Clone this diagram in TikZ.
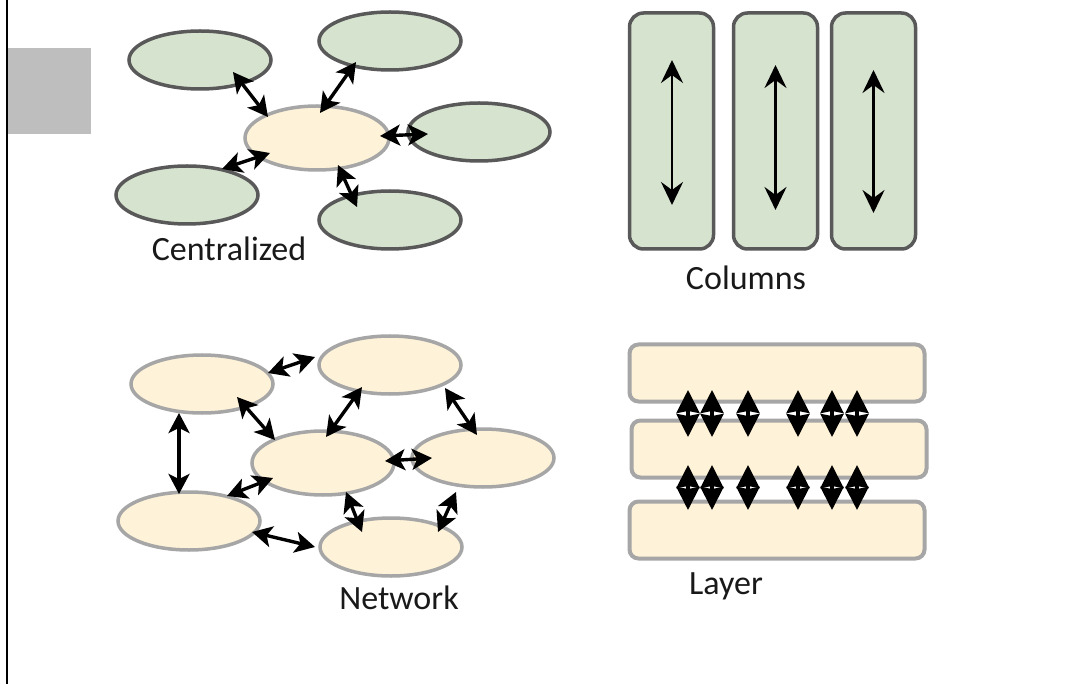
\documentclass[tikz,border=0pt]{standalone}
\usepackage{fontspec}
\setmainfont{Carlito}
\usetikzlibrary{shapes.geometric,arrows.meta}
\definecolor{gfill}{RGB}{214,227,207}
\definecolor{gline}{RGB}{89,89,89}
\definecolor{cfill}{RGB}{254,242,216}
\definecolor{cline}{RGB}{166,166,166}
\definecolor{blockgray}{RGB}{190,190,190}
\tikzset{
  gell/.style={ellipse,draw=gline,fill=gfill,line width=3.5pt,inner sep=0pt,minimum width=142pt,minimum height=58pt},
  cell/.style={ellipse,draw=cline,fill=cfill,line width=3.5pt,inner sep=0pt,minimum width=142pt,minimum height=58pt},
  colbox/.style={rectangle,rounded corners=14pt,draw=gline,fill=gfill,line width=3.5pt,inner sep=0pt,minimum width=84pt,minimum height=236pt},
  laybox/.style={rectangle,rounded corners=9pt,draw=cline,fill=cfill,line width=4pt,inner sep=0pt,minimum width=295pt,minimum height=57pt},
  biarrow/.style={line width=3.4pt,{Stealth[length=20pt,width=21pt,inset=5pt]}-{Stealth[length=20pt,width=21pt,inset=5pt]}},
  colarrow/.style={line width=2.8pt,{Stealth[length=23pt,width=22pt,inset=8pt]}-{Stealth[length=23pt,width=22pt,inset=8pt]}},
  layarrow/.style={line width=3.5pt,{Stealth[length=23pt,width=23pt,inset=2pt]}-{Stealth[length=23pt,width=23pt,inset=2pt]}},
  lbl/.style={font=\fontsize{34}{40}\selectfont,text=black!90,anchor=base,inner sep=0pt}
}
\begin{document}
\begin{tikzpicture}[x=1pt,y=-1pt]
\useasboundingbox (0,0) rectangle (1073,684);
\fill[white] (0,0) rectangle (1073,684);
% left frame line and gray block
\draw[line width=2pt] (7,0) -- (7,684);
\fill[blockgray] (8,48) rectangle (91,134);

% ---------- Centralized ----------
\node[gell] (E1) at (200,60) {};
\node[gell] (E2) at (390,41) {};
\node[gell] (E3) at (479,132) {};
\node[gell] (E4) at (187,195) {};
\node[gell] (E5) at (390,220) {};
\node[cell,minimum height=64pt,minimum width=144pt] (C) at (317,138) {};
\draw[biarrow] ([shift={(33,12)}]E1.center) -- ([shift={(-49,-21)}]C.center);
\draw[biarrow] ([shift={(-34,21)}]E2.center) -- ([shift={(3,-25)}]C.center);
\draw[biarrow] ([shift={(63,-2)}]C.center) -- ([shift={(-51,2)}]E3.center);
\draw[biarrow] ([shift={(35,-26)}]E4.center) -- ([shift={(-47,15)}]C.center);
\draw[biarrow] ([shift={(21,27)}]C.center) -- ([shift={(-33,-13)}]E5.center);
\node[lbl] (tc) at (229,261) {Centralized};

% ---------- Columns ----------
\node[colbox] (C1) at (671.5,131) {};
\node[colbox] (C2) at (775.5,131) {};
\node[colbox] (C3) at (873.5,131) {};
\draw[colarrow] ([shift={(0.5,-71)}]C1.center) -- ([shift={(0.5,74)}]C1.center);
\draw[colarrow] ([shift={(0,-66)}]C2.center) -- ([shift={(0,79)}]C2.center);
\draw[colarrow] ([shift={(0,-61)}]C3.center) -- ([shift={(0,82)}]C3.center);
\node[lbl] (tcol) at (746,290) {Columns};

% ---------- Network ----------
\node[cell] (N1) at (202,384) {};
\node[cell] (N2) at (390,365) {};
\node[cell,minimum height=64pt] (N3) at (323,463) {};
\node[cell] (N4) at (483,458) {};
\node[cell] (N5) at (189,521) {};
\node[cell] (N6) at (391,547) {};
\draw[biarrow] ([shift={(66,-11)}]N1.center) -- ([shift={(-75,-8)}]N2.center);
\draw[biarrow] ([shift={(35,13)}]N1.center) -- ([shift={(-48,-23)}]N3.center);
\draw[biarrow] ([shift={(-23,29)}]N1.center) -- ([shift={(-10,-27)}]N5.center);
\draw[biarrow] ([shift={(-28,22)}]N2.center) -- ([shift={(3,-26)}]N3.center);
\draw[biarrow] ([shift={(55,23)}]N2.center) -- ([shift={(-6,-23)}]N4.center);
\draw[biarrow] ([shift={(62,-2)}]N3.center) -- ([shift={(-51,0)}]N4.center);
\draw[biarrow] ([shift={(38,-25)}]N5.center) -- ([shift={(-50,15)}]N3.center);
\draw[biarrow] ([shift={(23,29)}]N3.center) -- ([shift={(-29,-15)}]N6.center);
\draw[biarrow] ([shift={(-27,34)}]N4.center) -- ([shift={(47,-15)}]N6.center);
\draw[biarrow] ([shift={(63,11)}]N5.center) -- ([shift={(-76,0)}]N6.center);
\node[lbl] (tnet) at (399,609) {Network};

% ---------- Layer ----------
\node[laybox] (L1) at (777,373) {};
\node[laybox] (L2) at (779,449) {};
\node[laybox] (L3) at (777,530) {};
\foreach \x in {688,712,748,798,832,857}{
  \draw[layarrow] ([shift={(\x-777,17)}]L1.center) -- ([shift={(\x-779,-12)}]L2.center);
  \draw[layarrow] ([shift={(\x-779,16)}]L2.center) -- ([shift={(\x-777,-20)}]L3.center);
}
\node[lbl] (tlay) at (726,594) {Layer};
\end{tikzpicture}
\end{document}
